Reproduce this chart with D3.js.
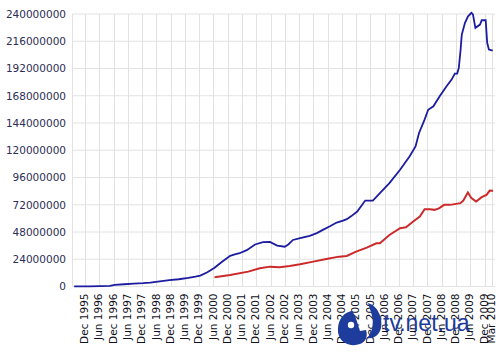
<!DOCTYPE html>
<html><head><meta charset="utf-8">
<script src="https://cdn.jsdelivr.net/npm/d3@7"></script>
<style>html,body{margin:0;padding:0;background:#fff;}svg{display:block;}</style>
</head><body>
<svg id="c" width="500" height="352"></svg>
<script>
// ---- data (values in millions of sites) ----
const totalDates = ["1995-07-15","1996-01-15","1996-06-15","1996-10-15","1996-12-15","1997-04-15","1997-08-15","1997-12-15","1998-03-15","1998-07-15","1998-11-15","1999-03-15","1999-07-15","1999-10-15","1999-12-15","2000-03-15","2000-06-15","2000-09-15","2001-01-01","2001-03-01","2001-05-01","2001-08-01","2001-11-15","2002-02-25","2002-05-25","2002-08-25","2002-12-01","2003-01-15","2003-03-15","2003-06-15","2003-10-15","2004-01-15","2004-04-01","2004-07-01","2004-09-25","2004-12-15","2005-02-01","2005-04-01","2005-06-15","2005-09-25","2006-01-01","2006-04-01","2006-08-01","2006-12-15","2007-04-15","2007-07-01","2007-08-15","2007-10-25","2007-12-10","2008-02-15","2008-05-05","2008-08-01","2008-10-05","2008-11-15","2008-12-15","2009-01-05","2009-01-28","2009-02-12","2009-03-25","2009-05-03","2009-06-15","2009-07-05","2009-08-05","2009-10-03","2009-10-25","2009-12-15","2010-01-03","2010-01-25","2010-03-15"];
const totalValues = [0.05,0.1,0.3,0.6,1.5,2.0,2.5,2.9,3.4,4.6,5.6,6.4,7.5,8.6,9.6,12.5,16.5,21.5,27.0,28.2,29.3,32.0,37.0,39.0,39.3,36.0,35.0,37.0,41.0,42.5,44.6,47.0,49.9,53.0,56.3,58.0,59.3,62.0,66.0,75.7,75.7,82.2,91.0,102.8,114.5,123.4,135.2,147.0,155.7,158.7,167.5,176.3,182.2,187.5,187.5,192.5,208.7,221.9,232.3,238.0,241.0,239.6,227.8,230.7,234.5,234.5,214.6,208.7,207.8];

const activeDates = ["2000-06-15","2001-01-01","2001-08-20","2002-01-15","2002-05-25","2002-09-25","2003-02-01","2003-06-15","2003-12-01","2004-05-15","2004-10-25","2005-02-01","2005-06-01","2005-10-15","2006-02-15","2006-04-01","2006-08-01","2006-12-15","2007-03-01","2007-06-01","2007-08-25","2007-10-25","2008-01-01","2008-03-01","2008-05-01","2008-07-01","2008-09-15","2009-01-25","2009-03-01","2009-05-01","2009-06-15","2009-08-15","2009-10-25","2009-12-25","2010-02-05","2010-03-20"];
const activeValues = [8.1,10.1,13.1,16.0,17.5,17.0,18.1,19.6,21.9,24.3,26.3,26.9,30.7,34.2,38.1,38.1,45.4,51.3,52.2,57.2,61.6,68.1,68.1,67.5,69.0,71.9,71.9,73.4,75.4,82.8,77.8,74.8,78.7,80.7,84.5,84.3];

const yTicks = [0,24,48,72,96,120,144,168,192,216,240];
const xTickDates = ["1995-12-01","1996-06-01","1996-12-01","1997-06-01","1997-12-01","1998-06-01","1998-12-01","1999-06-01","1999-12-01","2000-06-01","2000-12-01","2001-06-01","2001-12-01","2002-06-01","2002-12-01","2003-06-01","2003-12-01","2004-06-01","2004-12-01","2005-06-01","2005-12-01","2006-06-01","2006-12-01","2007-06-01","2007-12-01","2008-06-01","2008-12-01","2009-06-01","2009-12-01","2010-03-01"];
const xTickLabels = ["Dec 1995","Jun 1996","Dec 1996","Jun 1997","Dec 1997","Jun 1998","Dec 1998","Jun 1999","Dec 1999","Jun 2000","Dec 2000","Jun 2001","Dec 2001","Jun 2002","Dec 2002","Jun 2003","Dec 2003","Jun 2004","Dec 2004","Jun 2005","Dec 2005","Jun 2006","Dec 2006","Jun 2007","Dec 2007","Jun 2008","Dec 2008","Jun 2009","Dec 2009","Mar 2010"];

// ---- layout ----
const parse = d3.utcParse("%Y-%m-%d");
const L = 72, R = 495, T = 14, B = 286.5;
const x = d3.scaleUtc().domain([parse("1995-12-01"), parse("2009-12-01")]).range([85, 484.6]);
const y = d3.scaleLinear().domain([0, 240]).range([B, T]);

const svg = d3.select("#c");

// grid
const g = svg.append("g");
g.selectAll("line.h").data(yTicks).join("line")
  .attr("x1", L).attr("x2", R).attr("y1", d => y(d)).attr("y2", d => y(d))
  .attr("stroke", "#e2e2e2").attr("stroke-width", 1);
g.selectAll("line.v").data(xTickDates).join("line")
  .attr("x1", d => Math.round(x(parse(d))) + 0.5).attr("x2", d => Math.round(x(parse(d))) + 0.5)
  .attr("y1", T).attr("y2", B)
  .attr("stroke", "#e2e2e2").attr("stroke-width", 1);
g.append("line").attr("x1", L + 0.5).attr("x2", L + 0.5).attr("y1", T).attr("y2", B)
  .attr("stroke", "#e2e2e2");

// y axis
const yAxis = d3.axisLeft(y).tickValues(yTicks).tickSize(0).tickPadding(6)
  .tickFormat(d => d3.format("d")(d * 1e6));
svg.append("g").attr("transform", `translate(${L},0)`).call(yAxis)
  .call(a => a.select(".domain").remove())
  .selectAll("text").attr("font-family", "DejaVu Sans, Verdana, sans-serif")
  .attr("font-size", "10.5px").attr("fill", "#2e2e55");

// x axis labels
const xAxis = d3.axisBottom(x).tickValues(xTickDates.map(parse)).tickSize(0)
  .tickFormat((d, i) => xTickLabels[i]);
svg.append("g").attr("transform", `translate(0,${B})`).call(xAxis)
  .call(a => a.select(".domain").remove())
  .selectAll("text")
  .attr("font-family", "DejaVu Sans, Verdana, sans-serif").attr("font-size", "10.5px")
  .attr("fill", "#111122")
  .attr("text-anchor", "end").attr("transform", "rotate(-90)")
  .attr("x", -7).attr("y", -1).attr("dy", "0.35em");

// lines
const line = d3.line().x(d => x(parse(d[0]))).y(d => y(d[1]));
svg.append("path").datum(activeDates.map((d, i) => [d, activeValues[i]]))
  .attr("d", line).attr("fill", "none").attr("stroke", "#cc2a2a").attr("stroke-width", 2);
svg.append("path").datum(totalDates.map((d, i) => [d, totalValues[i]]))
  .attr("d", line).attr("fill", "none").attr("stroke", "#1c1ca0").attr("stroke-width", 1.8);

// watermark
const wm = svg.append("g").attr("fill", "#1d3c9c");
wm.append("path").attr("d", "M352,311 C340,313 336,326 339,336 C342,344 352,347 360,344 C366,342 368,336 366,330 L360,331 C357,322 356,316 352,311 Z");
wm.append("circle").attr("cx", 351).attr("cy", 325).attr("r", 3.2).attr("fill", "#ffffff");
wm.append("path").attr("d", "M368,303 C378,306 383,318 381,328 C379,336 373,339 367,338 C372,333 374,324 372,316 C371,311 369,307 368,303 Z");
wm.append("text").attr("x", 383).attr("y", 331).attr("font-family", "Arial, Liberation Sans, sans-serif")
  .attr("font-size", "23px").attr("fill", "#1d3c9c").text("tv.net.ua");
</script>
</body></html>
